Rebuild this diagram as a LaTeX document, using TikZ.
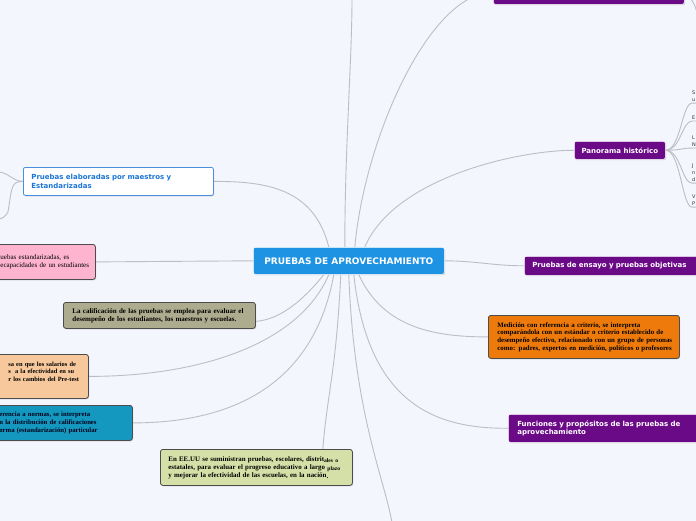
\documentclass[tikz,border=0pt]{standalone}
\usepackage{fontspec}
\setmainfont{Liberation Serif}
\newfontfamily\dv{DejaVu Sans}
\usetikzlibrary{backgrounds,shadows}
\definecolor{bgc}{HTML}{F3F6FD}
\definecolor{linec}{HTML}{BDBDC6}
\definecolor{cblue}{HTML}{1E93E3}
\definecolor{purp}{HTML}{6B0A87}
\definecolor{orng}{HTML}{EE7A0C}
\definecolor{peach}{HTML}{F6C89C}
\definecolor{teal}{HTML}{1498BF}
\definecolor{pinkc}{HTML}{FEB4CF}
\definecolor{khaki}{HTML}{ADAC8E}
\definecolor{greenc}{HTML}{D5E0A8}
\definecolor{elabblue}{HTML}{1A74D6}
\newcommand\tline[1]{\mbox{#1}}
\begin{document}
\begin{tikzpicture}[x=1pt,y=-1pt,
  conn/.style={draw=linec,line width=0.9pt},
  shad/.style={drop shadow={shadow xshift=0.8pt,shadow yshift=-0.9pt,opacity=0.35}},
  serifbox/.style={shad,rounded corners=2.5pt,draw=black!70,line width=0.8pt,
    font=\fontsize{6.9}{8}\selectfont\bfseries,align=left,anchor=north west,inner ysep=0pt},
  purplebox/.style={shad,rounded corners=2pt,fill=purp,draw=white,line width=0.6pt,text=white,
    font=\dv\fontsize{7}{8.6}\selectfont\bfseries,align=left,anchor=north west,inner ysep=0pt},
  smalltxt/.style={font=\dv\fontsize{5}{7}\selectfont,text=black!80,align=left,anchor=north west,inner sep=0pt}
]
\useasboundingbox (0,0) rectangle (696,520);
\clip (0,0) rectangle (696,520);

% central node
\node[shad,rounded corners=2pt,fill=cblue,draw=white,line width=0.6pt,anchor=north west,
  minimum width=191pt,minimum height=27pt,inner sep=0pt,text=white,
  font=\dv\fontsize{9}{10}\selectfont\bfseries] (c) at (253,247) {PRUEBAS DE APROVECHAMIENTO};

% left side
\node[shad,rounded corners=2pt,fill=white,draw=elabblue!80,line width=0.8pt,anchor=north west,
  text width=174pt,inner xsep=8pt,inner ysep=0pt,minimum height=28pt,align=left,text=elabblue,
  font=\dv\fontsize{7}{9}\selectfont\bfseries] (elab) at (23,167)
  {Pruebas elaboradas por maestros y\\Estandarizadas};

\node[serifbox,fill=pinkc,text width=85pt,inner xsep=10pt,minimum height=35pt,
  font=\fontsize{7}{8}\selectfont] (pink) at (-10,244)
  {\tline{uebas estandarizadas, es}\\\tline{ecapacidades de un estudiantes}};

\node[serifbox,fill=khaki,text width=174pt,inner xsep=9pt,minimum height=26pt,
  font=\fontsize{7}{8}\selectfont\bfseries] (gray) at (63,302)
  {\tline{La calificación de las pruebas se emplea para evaluar el}\\\tline{desempeño de los estudiantes, los maestros y escuelas.}};

\node[serifbox,fill=peach,text width=98pt,inner xsep=0pt,minimum height=44pt,
  font=\fontsize{6.4}{7.3}\selectfont\bfseries] (peach) at (-10,354)
  {\tline{\hspace*{18pt}sa en que los salarios de}\\\tline{\hspace*{18pt}s\ \ a la efectividad en su}\\\tline{\hspace*{18pt}r los cambios del Pre-test}\\[2pt]\mbox{}};

\node[serifbox,fill=teal,text=black!90!blue,text width=124pt,inner xsep=9pt,minimum height=35pt,
  font=\fontsize{6.7}{8}\selectfont\bfseries] (teal) at (-10,405)
  {\tline{erencia a normas, se interpreta}\\\tline{n la distribución de calificaciones}\\\tline{orma (estandarización) particular}};

\node[serifbox,fill=greenc,text width=176pt,inner xsep=8pt,minimum height=36pt] (green) at (160,449)
  {\tline{En EE.UU se suministran pruebas, escolares, distrit\raisebox{-1.3pt}{\fontsize{5.6}{6}\selectfont ales o}}\\\tline{estatales, para evaluar el progreso educativo a largo \raisebox{-1.3pt}{\fontsize{5.6}{6}\selectfont plazo}}\\\tline{y mejorar la efectividad de las escuelas, en la nación\raisebox{-1.3pt}{.}}};

% right side
\node[purplebox,minimum width=191pt,minimum height=24pt] (tr) at (493,-20) {};

\node[purplebox,minimum width=91pt,minimum height=18pt,inner xsep=0pt,align=center] (pan) at (574,141)
  {Panorama histórico};

\node[purplebox,text width=159pt,inner xsep=8pt,minimum height=19pt] (ens) at (524,256)
  {\tline{Pruebas de ensayo y pruebas objetivas}};

\node[serifbox,fill=orng,text width=173pt,inner xsep=9pt,minimum height=43pt,
  font=\fontsize{6.85}{7.7}\selectfont\bfseries] (med) at (488,315)
  {\tline{Medición con referencia a criterio, se interpreta}\\\tline{comparándola con un estándar o criterio establecido de}\\\tline{desempeño efectivo, relacionado con un grupo de personas}\\\tline{como: padres, expertos en medición, políticos o profesores}};

\node[purplebox,text width=177pt,inner xsep=9pt,minimum height=28pt] (fun) at (508,414)
  {\tline{Funciones y propósitos de las pruebas de}\\aprovechamiento};

% small clipped texts at the right edge
\node[smalltxt] (r1) at (692,91) {S\\u};
\node[smalltxt] (r2) at (692,116) {E};
\node[smalltxt] (r3) at (692,136) {L\\N};
\node[smalltxt] (r4) at (692,164) {J\\n\\d};
\node[smalltxt] (r5) at (692,195) {V\\P};

\coordinate (topend) at (352,-2);
\coordinate (botend) at (392,523);
\coordinate (el1) at (-2,172);
\coordinate (el2) at (-2,219);
\coordinate (trr) at (697,16);

\begin{pgfonlayer}{background}
\fill[bgc] (-20,-30) rectangle (720,540);
% center connectors
\draw[conn] ([xshift=-4pt]c.north) .. controls +(0,-100) and (352,60) .. (topend);
\draw[conn] ([xshift=6pt]c.north) .. controls +(10,-110) and (430,-8) .. (tr.west);
\draw[conn] ([xshift=16pt]c.north) .. controls +(30,-70) and (520,150) .. (pan.west);
\draw[conn] (c.east) .. controls +(30,0) and +(-30,0) .. (ens.west);
\draw[conn] ([xshift=10pt]c.south) .. controls +(25,55) and +(-50,0) .. (med.west);
\draw[conn] ([xshift=5pt]c.south) .. controls +(15,140) and +(-60,0) .. (fun.west);
\draw[conn] (c.south) .. controls +(5,140) and (385,480) .. (botend);
\draw[conn] ([xshift=-20pt]c.north) .. controls +(-15,-60) and +(50,0) .. (elab.east);
\draw[conn] (pink.east) -- (c.west);
\draw[conn] ([xshift=-25pt]c.south) .. controls +(-20,25) and +(25,-2) .. ([yshift=-6pt]gray.east);
\draw[conn] ([xshift=-20pt]c.south) .. controls +(-30,70) and +(110,0) .. (peach.east);
\draw[conn] ([xshift=-15pt]c.south) .. controls +(-20,110) and +(100,0) .. (teal.east);
\draw[conn] ([xshift=-8pt]c.south) .. controls +(-5,100) and +(5,-60) .. ([xshift=-30pt]green.north east);
% elab left branches
\draw[conn] (elab.west) .. controls +(-10,0) and +(10,0) .. (el1);
\draw[conn] (elab.west) .. controls +(-12,0) and +(4,-25) .. (8,212) .. controls (5,217) and (2,219) .. (el2);
% panorama branches
\draw[conn] (pan.east) .. controls +(15,0) and +(-10,0) .. ([yshift=-1pt]r1.south west) -- +(10,0);
\draw[conn] (pan.east) .. controls +(15,0) and +(-10,0) .. ([yshift=-1pt]r2.south west) -- +(10,0);
\draw[conn] (pan.east) .. controls +(15,0) and +(-10,0) .. ([yshift=-1pt]r3.south west) -- +(10,0);
\draw[conn] (pan.east) .. controls +(15,0) and +(-10,0) .. ([yshift=-1pt]r4.south west) -- +(10,0);
\draw[conn] (pan.east) .. controls +(15,0) and +(-10,0) .. ([yshift=-1pt]r5.south west) -- +(10,0);
\draw[conn] (tr.east) .. controls +(6,5) and +(0,-10) .. (trr);
\end{pgfonlayer}
\end{tikzpicture}
\end{document}
